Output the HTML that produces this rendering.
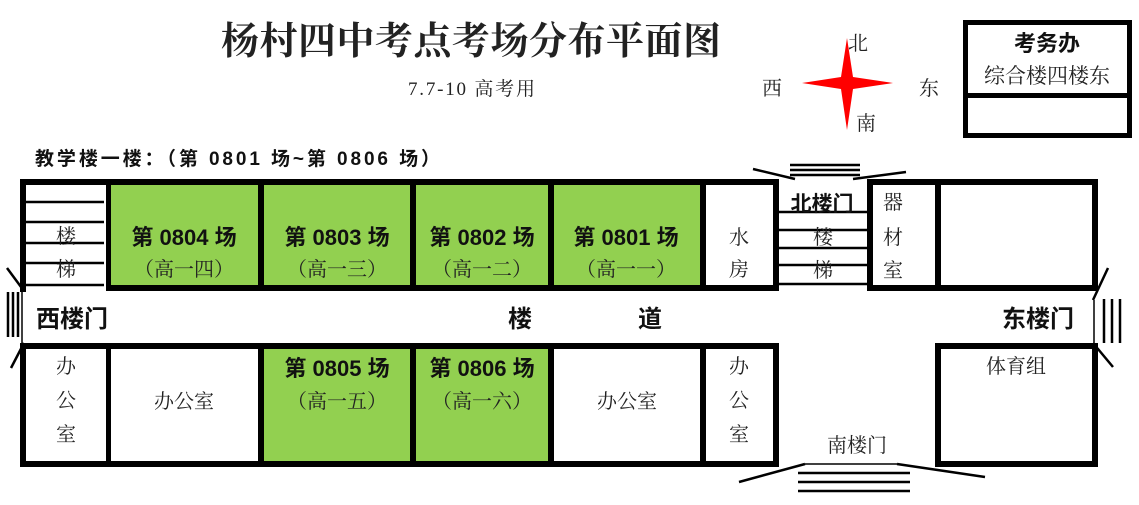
<!DOCTYPE html>
<html><head><meta charset="utf-8"><style>
body{margin:0;background:#fff;width:1139px;height:500px;overflow:hidden}
svg text{font-family:"Liberation Serif","Noto Serif CJK SC",serif;fill:#222}
.b{font-family:"Liberation Sans","Noto Sans CJK SC",sans-serif;font-weight:bold;fill:#111}
</style></head><body>
<svg width="1139" height="500" viewBox="0 0 1139 500" xmlns="http://www.w3.org/2000/svg">
<text x="221" y="54" font-size="38" textLength="500" font-weight="bold" fill="#111">杨村四中考点考场分布平面图</text>
<text x="408" y="95" font-size="19" textLength="127">7.7-10 高考用</text>
<path d="M847,38 L853,77 L893,83 L853,89 L847,130 L841,89 L802,83 L841,77 Z" fill="#f00"/>
<text x="858" y="50" font-size="20" text-anchor="middle">北</text>
<text x="772" y="95" font-size="20" text-anchor="middle">西</text>
<text x="929" y="95" font-size="20" text-anchor="middle">东</text>
<text x="866" y="130" font-size="20" text-anchor="middle">南</text>
<rect x="965.5" y="22.5" width="164" height="113" fill="none" stroke="#000" stroke-width="5"/>
<rect x="963" y="93" width="169" height="5" fill="#000"/>
<text x="1047" y="51" font-size="22" text-anchor="middle" class="b">考务办</text>
<text x="1047" y="83" font-size="21" text-anchor="middle">综合楼四楼东</text>
<text x="35" y="165" font-size="19" class="b" textLength="405">教学楼一楼：（第 0801 场~第 0806 场）</text>
<g fill="#92d050">
<rect x="111" y="185" width="600" height="101"/>
<rect x="264" y="348" width="290" height="116"/>
</g>
<rect x="26" y="185" width="80" height="101" fill="#fff"/>
<rect x="706" y="185" width="67" height="101" fill="#fff"/>
<g fill="#000">
<rect x="20" y="179" width="759" height="6"/>
<rect x="867" y="179" width="231" height="6"/>
<rect x="20" y="179" width="6" height="113"/>
<rect x="106" y="285" width="673" height="6"/>
<rect x="867" y="285" width="231" height="6"/>
<rect x="106" y="179" width="5" height="112"/>
<rect x="258" y="179" width="6" height="112"/>
<rect x="410" y="179" width="6" height="112"/>
<rect x="548" y="179" width="6" height="112"/>
<rect x="700" y="179" width="6" height="112"/>
<rect x="773" y="179" width="6" height="112"/>
<rect x="867" y="179" width="6" height="112"/>
<rect x="935" y="179" width="6" height="112"/>
<rect x="1092" y="179" width="6" height="112"/>
<rect x="20" y="343" width="759" height="6"/>
<rect x="20" y="461" width="759" height="6"/>
<rect x="20" y="343" width="6" height="124"/>
<rect x="106" y="343" width="5" height="124"/>
<rect x="258" y="343" width="6" height="124"/>
<rect x="410" y="343" width="6" height="124"/>
<rect x="548" y="343" width="6" height="124"/>
<rect x="700" y="343" width="6" height="124"/>
<rect x="773" y="343" width="6" height="124"/>
<rect x="935" y="343" width="163" height="6"/>
<rect x="935" y="461" width="163" height="6"/>
<rect x="935" y="343" width="6" height="124"/>
<rect x="1092" y="343" width="6" height="124"/>
</g>
<g stroke="#000" stroke-width="2.5" fill="none">
<path d="M26,202H104M26,222H104M26,243H104M26,263H104M26,285H104"/>
<path d="M779,212H867M779,230H867M779,248H867M779,265H867M779,284H867"/>
<path d="M790,165H860M790,170H860M790,175H860"/>
<path d="M753,169L795,179M853,179L906,172"/>
<path d="M1093,300L1108,268M1104,299V343M1112,299V343M1120,299V343M1093,343L1113,367"/>
<path d="M7,268L24,291M8,292V337M13,292V337M18,292V337M24,343L11,368"/>
<path d="M798,473H910M798,482H910M798,491H910M739,482L805,464M897,464L985,477"/>
</g>
<g stroke="#000" stroke-width="1.5"><path d="M1094,300V343M22,292V343M805,464H897"/></g>
<g font-size="20" text-anchor="middle">
<text x="66" y="243">楼</text><text x="66" y="276">梯</text>
<text x="739" y="244">水</text><text x="739" y="276">房</text>
<text x="823" y="244">楼</text><text x="823" y="277">梯</text>
<text x="893" y="209">器</text><text x="893" y="244">材</text><text x="893" y="277">室</text>
<text x="184" y="276">（高一四）</text><text x="337" y="276">（高一三）</text>
<text x="482" y="276">（高一二）</text><text x="626" y="276">（高一一）</text>
<text x="66" y="373">办</text><text x="66" y="407">公</text><text x="66" y="441">室</text>
<text x="184" y="408">办公室</text><text x="627" y="408">办公室</text>
<text x="337" y="408">（高一五）</text><text x="482" y="408">（高一六）</text>
<text x="739" y="373">办</text><text x="739" y="407">公</text><text x="739" y="441">室</text>
<text x="857" y="452">南楼门</text>
<text x="1016" y="373">体育组</text>
</g>
<g font-size="22" text-anchor="middle">
<text class="b" x="184" y="245">第 0804 场</text><text class="b" x="337" y="245">第 0803 场</text>
<text class="b" x="482" y="245">第 0802 场</text><text class="b" x="626" y="245">第 0801 场</text>
<text class="b" x="337" y="376">第 0805 场</text><text class="b" x="482" y="376">第 0806 场</text>
<text class="b" x="822" y="211" font-size="21">北楼门</text>
<text class="b" x="72" y="327" font-size="24">西楼门</text>
<text class="b" x="520" y="327" font-size="24">楼</text><text class="b" x="650" y="327" font-size="24">道</text>
<text class="b" x="1038" y="327" font-size="24">东楼门</text>
</g>
</svg>
</body></html>
